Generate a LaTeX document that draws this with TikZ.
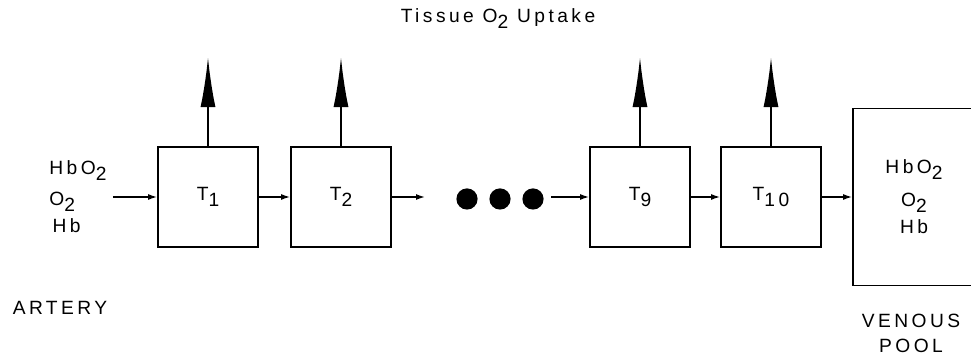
\documentclass[tikz,border=0pt]{standalone}
\usepackage{fontspec}
\setmainfont{Liberation Sans}[LetterSpace=18]
\usetikzlibrary{positioning,arrows.meta}
\newcommand{\lowsub}[1]{\raisebox{-0.6ex}{#1}}

\begin{document}
\begin{tikzpicture}[x=0.5pt,y=-0.5pt,font=\fontsize{9.6}{11.5}\selectfont,
  compartment/.style={draw,line width=0.9pt,minimum width=50pt,minimum height=50pt,inner sep=0pt},
  flow/.style={-{Latex[length=4.5pt,width=3pt]},line width=0.7pt},
  uptake/.style={-{Latex[length=25pt,width=7.5pt]},line width=1pt}]
\useasboundingbox (0,0) rectangle (971,356);
\clip (0,0) rectangle (971,356);
% ---- title ----
\node (title) at (498,19) {Tissue O\lowsub{2} Uptake};
% ---- arterial inflow ----
\node[align=left,anchor=west,inner sep=3pt] (inlet) at (43,197)
  {HbO\lowsub{2}\\[4pt]O\lowsub{2}\\[2pt]\,Hb};
\node (artery) at (60,308) {ARTERY};
% ---- tissue compartments ----
\node[compartment] (t1) at (208,197) {T\lowsub{1}};
\node[compartment] (t2) at (341,197) {T\lowsub{2}};
\node[compartment] (t9) at (640,197) {T\lowsub{9}};
\node[compartment] (t10) at (771,197) {T\lowsub{10}};
\foreach \n in {t1,t2,t9,t10}{
  \draw[uptake] (\n.north) -- ++(0,-89);}
% ---- venous pool, runs off the right edge ----
\node[draw,line width=0.9pt,minimum width=61pt,minimum height=88.5pt,align=center] (pool) at (914,197)
  {HbO\lowsub{2}\\[5pt]O\lowsub{2}\\[2pt]Hb};
\node[align=center] (venous) at (911,333) {VENOUS\\[1pt]POOL};
% ---- flow between compartments ----
\coordinate (gapin) at (425,197);
\coordinate (gapout) at (551,197);
\foreach \x in {467,500,533}{
  \fill (\x,199) circle [radius=5.3pt];}
\draw[flow] (inlet.east) -- (t1.west);
\draw[flow] (t1) -- (t2);
\draw[flow] (t2.east) -- (gapin);
\draw[flow] (gapout) -- (t9.west);
\draw[flow] (t9) -- (t10);
\draw[flow] (t10.east) -- (pool.west);
\end{tikzpicture}
\end{document}
